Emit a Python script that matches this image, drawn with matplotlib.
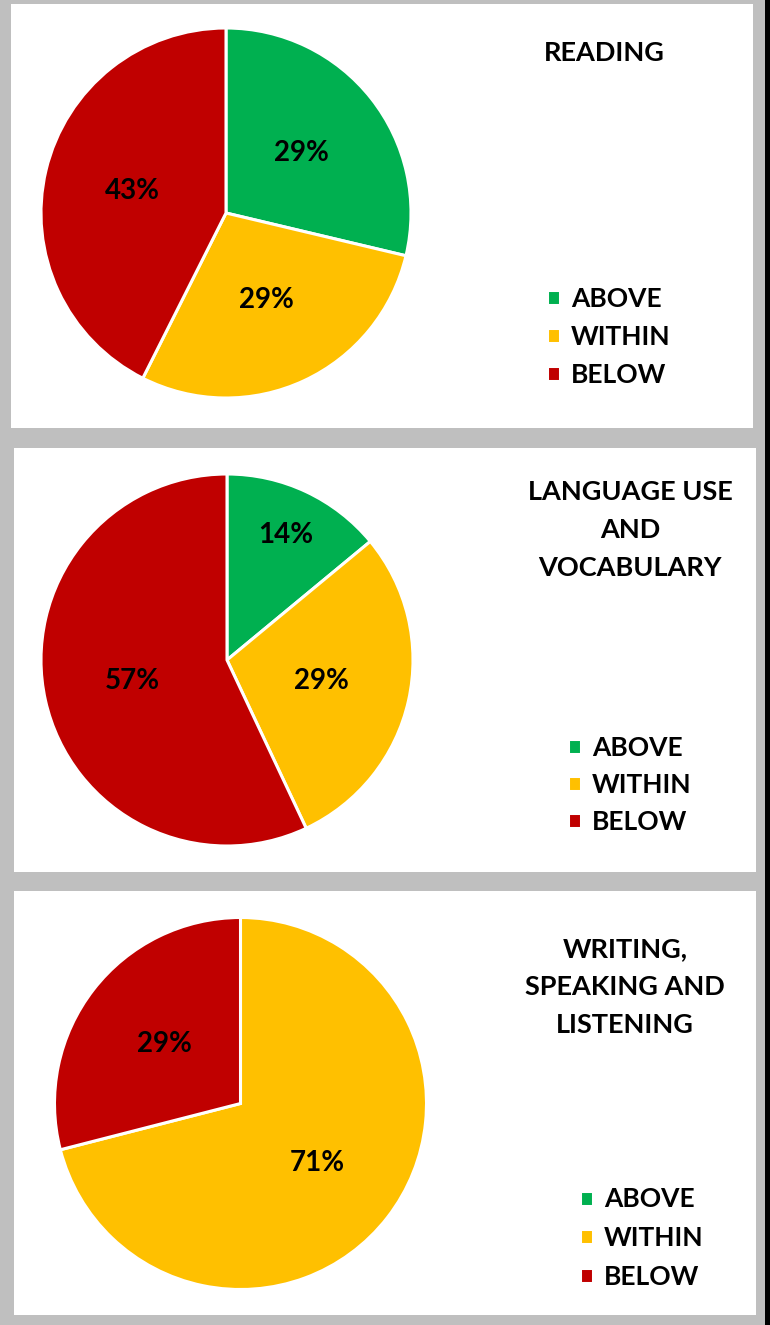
import numpy as np
import matplotlib
matplotlib.use("Agg")
from matplotlib import pyplot as plt
from matplotlib.patches import Rectangle

plt.rcParams['font.family'] = ['Lato', 'DejaVu Sans']
plt.rcParams['font.weight'] = 'bold'

# data
categories = ["ABOVE", "WITHIN", "BELOW"]
colors = ["#00b050", "#ffc000", "#c00000"]
titles = ["READING", "LANGUAGE USE\nAND\nVOCABULARY", "WRITING,\nSPEAKING AND\nLISTENING"]
reading = [29, 29, 43]
language = [14, 29, 57]
writing = [0, 71, 29]
series = [reading, language, writing]

W, H = 770, 1325
fig = plt.figure(figsize=(W / 100, H / 100), dpi=100)
fig.patch.set_facecolor("#bfbfbf")


def fx(x):
    return x / W


def fy(y):
    return 1 - y / H


# panel boxes (pixels: left, top, right, bottom)
panels = [(11, 4, 753, 428), (14, 448, 756, 872), (14, 891, 756, 1315)]
# pie centre and radius in pixels
pies = [(226, 213, 185), (227, 660, 186), (240.5, 1103.5, 186)]
title_xy = [(604, 53), (630, 530), (625, 987)]
legend_xy = [(547, 337, 0.52), (568, 785, 0.5), (580, 1238, 0.55)]

fig.patches.append(Rectangle((fx(765), 0), fx(5), 1, transform=fig.transFigure,
                             facecolor="black", edgecolor="none", zorder=-2))
for (l, t, r, b) in panels:
    fig.patches.append(Rectangle((fx(l), fy(b)), fx(r - l), (b - t) / H,
                                 transform=fig.transFigure, facecolor="white",
                                 edgecolor="none", zorder=-2))


def pct_fmt(p):
    return f"{p:.0f}%" if p >= 0.5 else ""


for i, vals in enumerate(series):
    cx, cy, rad = pies[i]
    ax = fig.add_axes([fx(cx - rad), fy(cy + rad), 2 * rad / W, 2 * rad / H])
    ax.patch.set_visible(False)
    wedges, texts, autotexts = ax.pie(
        vals, colors=colors, startangle=90, counterclock=False,
        autopct=pct_fmt, pctdistance=0.52,
        wedgeprops=dict(edgecolor="white", linewidth=2.2),
        textprops=dict(fontsize=20, fontweight="bold", color="black"))
    # narrow slices get their label pushed outwards
    for w, t in zip(wedges, autotexts):
        span = (w.theta2 - w.theta1) % 360
        if 0 < span < 72:
            mid = np.radians((w.theta1 + w.theta2) / 2)
            t.set_position((0.74 * np.cos(mid), 0.74 * np.sin(mid)))
    ax.set_xlim(-1, 1)
    ax.set_ylim(-1, 1)
    ax.set_aspect("equal")
    ax.axis("off")

    tx, ty = title_xy[i]
    fig.text(fx(tx), fy(ty), titles[i], ha="center", va="center",
             multialignment="center", fontsize=19.5, fontweight="bold",
             linespacing=1.7)

    lx, ly, sp = legend_xy[i]
    fig.legend(wedges, categories, loc="center left",
               bbox_to_anchor=(fx(lx), fy(ly)), bbox_transform=fig.transFigure,
               frameon=False, borderpad=0, borderaxespad=0,
               handlelength=0.49, handleheight=0.49, handletextpad=0.42,
               labelspacing=sp, prop=dict(size=19, weight="bold"))

fig.savefig("out.png", dpi=100, facecolor=fig.get_facecolor())
